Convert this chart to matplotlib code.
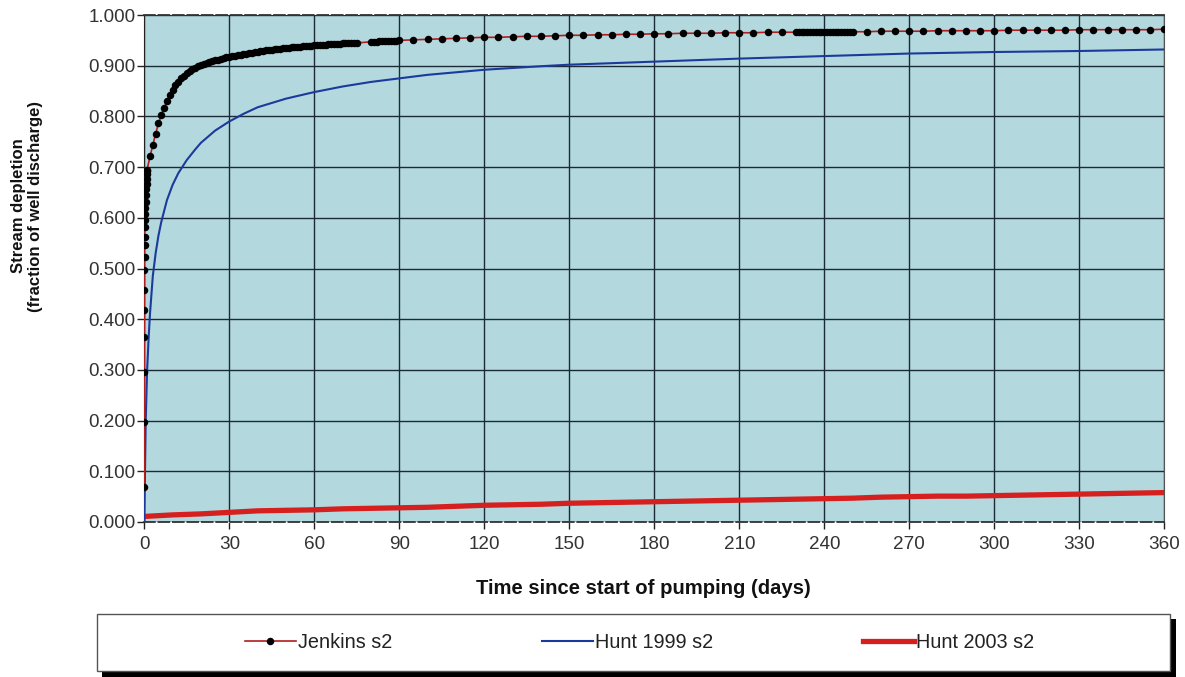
import matplotlib
matplotlib.use("Agg")
import matplotlib.pyplot as plt
from matplotlib.patches import Rectangle
from matplotlib.lines import Line2D

# ---------------- data ----------------
jenkins_t = [0.01, 0.02, 0.03, 0.04, 0.05, 0.06, 0.07, 0.08, 0.09, 0.10, 0.11,
             0.2, 0.3, 0.4, 0.5, 0.6, 0.7, 0.8, 0.85, 0.9, 0.95,
             1, 2, 3, 4, 5, 6, 7, 8, 9, 10, 11, 12, 13, 14, 15, 16, 17, 18, 19, 20,
             21, 22, 23, 24, 25, 26, 27, 28, 29, 30, 31, 32, 33, 34, 35, 36, 37, 38, 39, 40,
             41, 42, 43, 44, 45, 46, 47, 48, 49, 50, 51, 52, 53, 54, 55, 56, 57, 58, 59, 60,
             61, 62, 63, 64, 65, 66, 67, 68, 69, 70, 71, 72, 73, 74, 75,
             80, 81, 82, 83, 84, 85, 86, 87, 88, 89, 90,
             95, 100, 105, 110, 115, 120, 125, 130, 135, 140, 145, 150, 155, 160, 165,
             170, 175, 180, 185, 190, 195, 200, 205, 210, 215, 220, 225,
             230, 231, 232, 233, 234, 235, 236, 237, 238, 239, 240, 241, 242, 243, 244,
             245, 246, 247, 248, 249, 250,
             255, 260, 265, 270, 275, 280, 285, 290, 295, 300, 305, 310, 315, 320, 325,
             330, 335, 340, 345, 350, 355, 360]
jenkins_v = [0.069, 0.197, 0.296, 0.365, 0.418, 0.458, 0.497, 0.523, 0.546, 0.562, 0.582,
             0.596, 0.608, 0.620, 0.632, 0.644, 0.656, 0.667, 0.677, 0.686, 0.692,
             0.695, 0.721, 0.743, 0.766, 0.786, 0.803, 0.817, 0.830, 0.842, 0.852,
             0.861, 0.868, 0.875, 0.880, 0.885, 0.889, 0.893, 0.896, 0.899, 0.901,
             0.903, 0.905, 0.907, 0.909, 0.911, 0.912, 0.914, 0.915, 0.917, 0.918,
             0.919, 0.920, 0.921, 0.922, 0.923, 0.924, 0.925, 0.926, 0.927, 0.928,
             0.929, 0.929, 0.930, 0.931, 0.931, 0.932, 0.933, 0.933, 0.934, 0.935,
             0.935, 0.936, 0.936, 0.937, 0.937, 0.938, 0.938, 0.939, 0.939, 0.940,
             0.940, 0.941, 0.941, 0.941, 0.942, 0.942, 0.943, 0.943, 0.943, 0.944,
             0.944, 0.944, 0.945, 0.945, 0.945,
             0.947, 0.947, 0.947, 0.948, 0.948, 0.948, 0.948, 0.949, 0.949, 0.949, 0.950,
             0.951, 0.952, 0.953, 0.954, 0.955, 0.956, 0.956, 0.957, 0.958, 0.958,
             0.959, 0.960, 0.960, 0.961, 0.961,
             0.962, 0.962, 0.963, 0.963, 0.964, 0.964, 0.964, 0.965, 0.965, 0.965, 0.966, 0.966,
             0.966, 0.966, 0.966, 0.966, 0.967, 0.967, 0.967, 0.967, 0.967, 0.967, 0.967,
             0.967, 0.967, 0.967, 0.967, 0.967, 0.967, 0.967, 0.967, 0.967, 0.967,
             0.967, 0.968, 0.968, 0.968, 0.968, 0.969, 0.969, 0.969, 0.969, 0.969,
             0.970, 0.970, 0.970, 0.970, 0.970, 0.971, 0.971, 0.971, 0.971, 0.971,
             0.971, 0.972]

hunt1999_t = [0, 0.5, 1, 1.5, 2, 3, 4, 5, 6, 8, 10, 12, 15, 18, 20, 25, 30, 35, 40,
              50, 60, 70, 80, 90, 100, 120, 140, 150, 180, 210, 240, 270, 300, 330, 360]
hunt1999_v = [0.0, 0.20, 0.30, 0.36, 0.41, 0.485, 0.53, 0.565, 0.592, 0.635, 0.665,
              0.688, 0.714, 0.735, 0.748, 0.772, 0.790, 0.805, 0.818,
              0.835, 0.848, 0.859, 0.868, 0.875, 0.882, 0.892, 0.899, 0.902, 0.908,
              0.914, 0.919, 0.924, 0.927, 0.929, 0.932]

hunt2003_t = [0, 10, 20, 30, 40, 50, 60, 70, 80, 90, 100, 110, 120, 130, 140, 150,
              160, 170, 180, 190, 200, 210, 220, 230, 240, 250, 260, 270, 280, 290,
              300, 310, 320, 330, 340, 350, 360]
hunt2003_v = [0.011, 0.014, 0.016, 0.019, 0.022, 0.023, 0.024, 0.026, 0.027, 0.028,
              0.029, 0.031, 0.033, 0.034, 0.035, 0.037, 0.038, 0.039, 0.040, 0.041,
              0.042, 0.043, 0.044, 0.045, 0.046, 0.047, 0.049, 0.050, 0.051, 0.051,
              0.052, 0.053, 0.054, 0.055, 0.056, 0.057, 0.058]

x_ticks = list(range(0, 361, 30))
y_ticks = [0.0, 0.1, 0.2, 0.3, 0.4, 0.5, 0.6, 0.7, 0.8, 0.9, 1.0]
series_labels = ["Jenkins s2", "Hunt 1999 s2", "Hunt 2003 s2"]
x_label = "Time since start of pumping (days)"
y_label = "Stream depletion\n(fraction of well discharge)"

# ---------------- figure ----------------
W, H = 1185, 677
plt.rcParams['font.family'] = ['Liberation Sans', 'DejaVu Sans']
fig = plt.figure(figsize=(W / 100, H / 100), dpi=100)
fig.patch.set_facecolor('white')

def fx(px):
    return px / W

def fy(py):
    return 1 - py / H

ax = fig.add_axes([fx(144.3), fy(522), fx(1164.3) - fx(144.3), fy(15) - fy(522)])
ax.set_facecolor('#b3d9de')

ax.plot(hunt2003_t, hunt2003_v, color='#d62020', lw=3.8, solid_capstyle='butt', zorder=3)
ax.plot(hunt1999_t, hunt1999_v, color='#1c3a9c', lw=1.5, zorder=4)
ax.plot(jenkins_t, jenkins_v, color='#b01e1e', lw=1.2, marker='o', ms=5.4,
        mfc='black', mec='black', mew=0, zorder=5)

ax.set_xlim(0, 360)
ax.set_ylim(0, 1.0)
ax.set_xticks(x_ticks)
ax.set_yticks(y_ticks)
ax.set_xticklabels([str(t) for t in x_ticks])
ax.set_yticklabels([f"{v:.3f}" for v in y_ticks])
ax.tick_params(axis='both', labelsize=13.6, labelcolor='#333333', color='#222222',
               length=5, width=1)
ax.tick_params(axis='y', pad=1.5)
ax.tick_params(axis='x', pad=5)
ax.grid(True, color='#1c2a36', lw=1.0)
ax.set_axisbelow(True)

for side in ['top', 'bottom']:
    ax.spines[side].set_linestyle((0, (6, 2)))
    ax.spines[side].set_color('#333333')
    ax.spines[side].set_linewidth(1.3)
ax.spines['left'].set_color('#222222')
ax.spines['right'].set_color('#555555')
ax.spines['right'].set_linewidth(0.8)

fig.text(fx(643), fy(588), x_label, ha='center', va='center',
         fontsize=14.6, fontweight='bold', color='#111111')
fig.text(fx(27), fy(206), y_label, ha='center', va='center', rotation=90,
         fontsize=12, fontweight='bold', color='#111111', multialignment='center',
         linespacing=1.15)

# legend box with shadow
shadow = Rectangle((fx(102), fy(677)), fx(1176) - fx(102), fy(619) - fy(677),
                   transform=fig.transFigure, facecolor='black', edgecolor='none', zorder=1)
box = Rectangle((fx(97), fy(671)), fx(1170) - fx(97), fy(614) - fy(671),
                transform=fig.transFigure, facecolor='white', edgecolor='#555555',
                lw=1.0, zorder=2)
fig.patches.extend([shadow, box])

handles = [Line2D([], [], color='#b01e1e', lw=1.2, marker='o', ms=5.4, mfc='black', mec='black', mew=0),
           Line2D([], [], color='#1c3a9c', lw=1.5),
           Line2D([], [], color='#d62020', lw=3.8)]
leg = fig.legend(handles, series_labels, loc='center left',
                 bbox_to_anchor=(fx(245), fy(642)), ncol=3, frameon=False,
                 fontsize=14.3, handlelength=2.55, handletextpad=0.12,
                 columnspacing=7.55, borderpad=0, borderaxespad=0, markerscale=1.0)
leg.set_zorder(3)
for t in leg.get_texts():
    t.set_color('#222222')

fig.savefig('out.png', dpi=100, facecolor='white')
